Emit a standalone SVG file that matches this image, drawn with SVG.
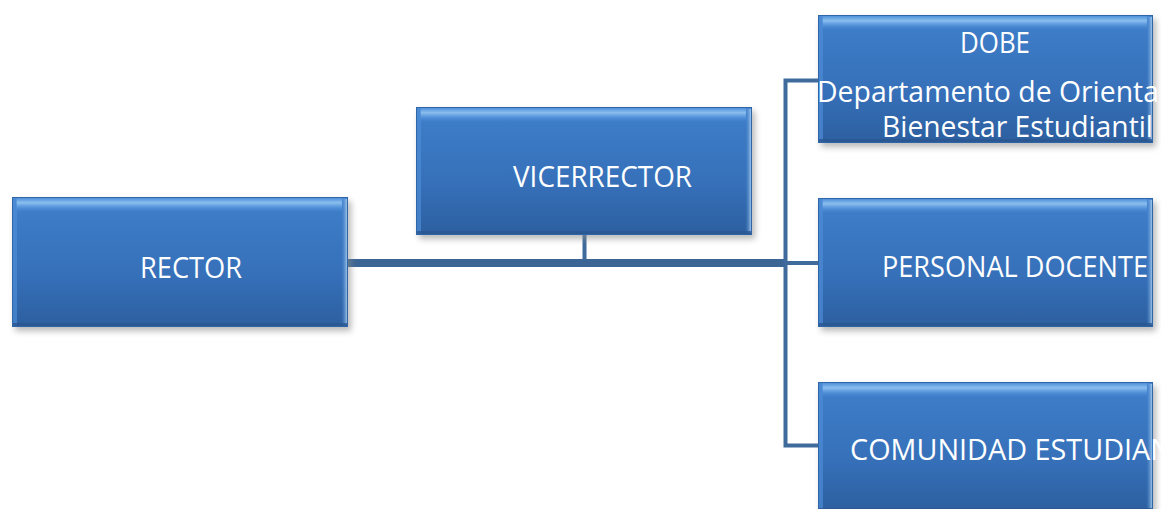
<svg xmlns="http://www.w3.org/2000/svg" width="1161" height="509" viewBox="0 0 1161 509">
  <defs>
    <linearGradient id="boxFill" x1="0" y1="0" x2="0" y2="1">
      <stop offset="0" stop-color="#4a8ad6"/>
      <stop offset="0.12" stop-color="#3d7cc7"/>
      <stop offset="0.6" stop-color="#3670b9"/>
      <stop offset="1" stop-color="#2c5f9f"/>
    </linearGradient>
    <linearGradient id="topShine" x1="0" y1="0" x2="0" y2="1">
      <stop offset="0" stop-color="#4f90da" stop-opacity="1"/>
      <stop offset="0.35" stop-color="#8fc2f0" stop-opacity="0.95"/>
      <stop offset="0.6" stop-color="#6aa6e6" stop-opacity="0.7"/>
      <stop offset="1" stop-color="#4a8ad6" stop-opacity="0"/>
    </linearGradient>
    <linearGradient id="sideShine" x1="0" y1="0" x2="1" y2="0">
      <stop offset="0" stop-color="#3d7cc7" stop-opacity="0"/>
      <stop offset="1" stop-color="#c6e4fa" stop-opacity="0.95"/>
    </linearGradient>
    <filter id="softShadow" x="-5%" y="-10%" width="115%" height="130%">
      <feGaussianBlur stdDeviation="3"/>
    </filter>
    <symbol id="box" viewBox="0 0 336 130" preserveAspectRatio="none" overflow="visible">
      <rect x="3" y="4" width="336" height="130" fill="#8a8a8a" opacity="0.6" filter="url(#softShadow)"/>
      <rect x="0" y="0" width="336" height="130" fill="url(#boxFill)"/>
      <rect x="4" y="1" width="326" height="14" fill="url(#topShine)"/>
      <rect x="0" y="0" width="5" height="130" fill="#4d8cd6" opacity="0.7"/>
      <rect x="329" y="2" width="7" height="126" fill="url(#sideShine)"/>
      <rect x="0" y="126" width="336" height="4" fill="#2a5690" opacity="0.8"/>
      <rect x="0.5" y="0.5" width="335" height="129" fill="none" stroke="#2f66a8" stroke-width="1"/>
    </symbol>
  </defs>
  <style>
    .lbl { font-family: "Open Sans", "Liberation Sans", sans-serif; font-size: 29px; fill: #ffffff; }
    .trunk { stroke: #3b6595; stroke-width: 8; fill: none; }
    .branch { stroke: #3f6a9c; stroke-width: 4; fill: none; }
  </style>

  <g id="connectors">
    <line class="trunk" x1="346" y1="263" x2="786" y2="263"/>
    <line class="branch" x1="584.5" y1="234" x2="584.5" y2="260"/>
    <path class="branch" d="M818 80.5 H785.5 V445.5 H818"/>
    <line class="branch" x1="785" y1="263" x2="820" y2="263" stroke="#5a82b0"/>
  </g>

  <g id="node-rector">
    <use href="#box" x="12" y="197" width="336" height="130"/>
    <text class="lbl" x="140" y="278" textLength="102" lengthAdjust="spacingAndGlyphs">RECTOR</text>
  </g>

  <g id="node-vicerrector">
    <use href="#box" x="416" y="107" width="336" height="128"/>
    <text class="lbl" x="513" y="187" textLength="179" lengthAdjust="spacingAndGlyphs">VICERRECTOR</text>
  </g>

  <g id="node-dobe">
    <use href="#box" x="818" y="15" width="335" height="128"/>
    <text class="lbl" x="960" y="53" textLength="70" lengthAdjust="spacingAndGlyphs">DOBE</text>
    <text class="lbl" x="817" y="102" textLength="342" lengthAdjust="spacingAndGlyphs">Departamento de Orienta</text>
    <text class="lbl" x="882" y="137" textLength="271" lengthAdjust="spacingAndGlyphs">Bienestar Estudiantil</text>
  </g>

  <g id="node-personal-docente">
    <use href="#box" x="818" y="198" width="335" height="129"/>
    <text class="lbl" x="882" y="277" textLength="266" lengthAdjust="spacingAndGlyphs">PERSONAL DOCENTE</text>
  </g>

  <g id="node-comunidad-estudiantil">
    <use href="#box" x="818" y="382" width="335" height="130"/>
    <text class="lbl" x="850" y="460" textLength="322" lengthAdjust="spacingAndGlyphs">COMUNIDAD ESTUDIAN</text>
  </g>
</svg>
